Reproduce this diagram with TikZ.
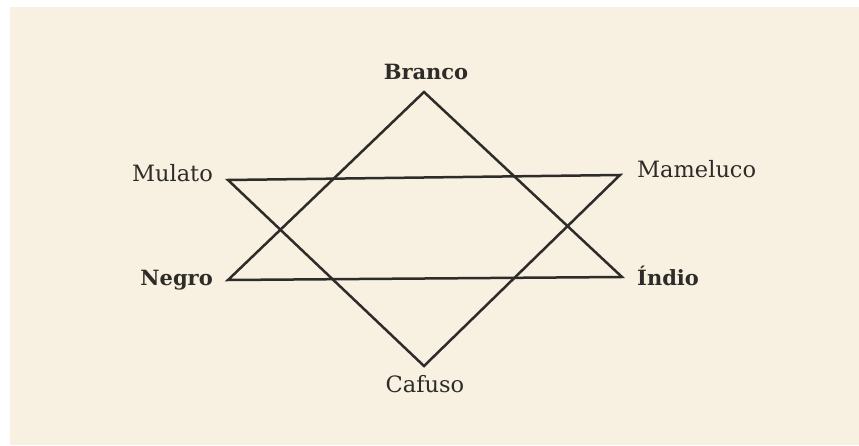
\documentclass[tikz,border=0pt]{standalone}
\usepackage{fontspec}
\setmainfont{DejaVu Serif}
\definecolor{paper}{HTML}{F8F1E2}
\definecolor{ink}{HTML}{2E2C28}
\begin{document}
\begin{tikzpicture}[x=1pt,y=-1pt,
  lbl/.style={text=ink,font=\fontsize{22.5}{26}\selectfont,inner sep=0pt},
  blbl/.style={lbl,font=\fontsize{21}{25}\selectfont\bfseries},
  edge/.style={draw=ink,line width=2.5pt,line join=miter}]
\useasboundingbox (0,0) rectangle (859,446);
\fill[white] (0,0) rectangle (859,446);
\fill[paper] (10,7) rectangle (859,445);
\coordinate (B) at (424,92);
\coordinate (Mu) at (228,180);
\coordinate (Ma) at (620,175);
\coordinate (N) at (228,280);
\coordinate (I) at (622,277);
\coordinate (C) at (424,366);
\draw[edge] (B) -- (N) -- (I) -- cycle;
\draw[edge] (Mu) -- (Ma) -- (C) -- cycle;
\node[blbl,anchor=base] (tB) at (426,80) {Branco};
\node[lbl,anchor=base east] (tMu) at (213,182) {Mulato};
\node[blbl,anchor=base east] (tN) at (213,285) {Negro};
\node[lbl,anchor=base west] (tMa) at (637,178) {Mameluco};
\node[blbl,anchor=base west] (tI) at (637,285) {Índio};
\node[lbl,anchor=base] (tC) at (425,392) {Cafuso};
\end{tikzpicture}
\end{document}
